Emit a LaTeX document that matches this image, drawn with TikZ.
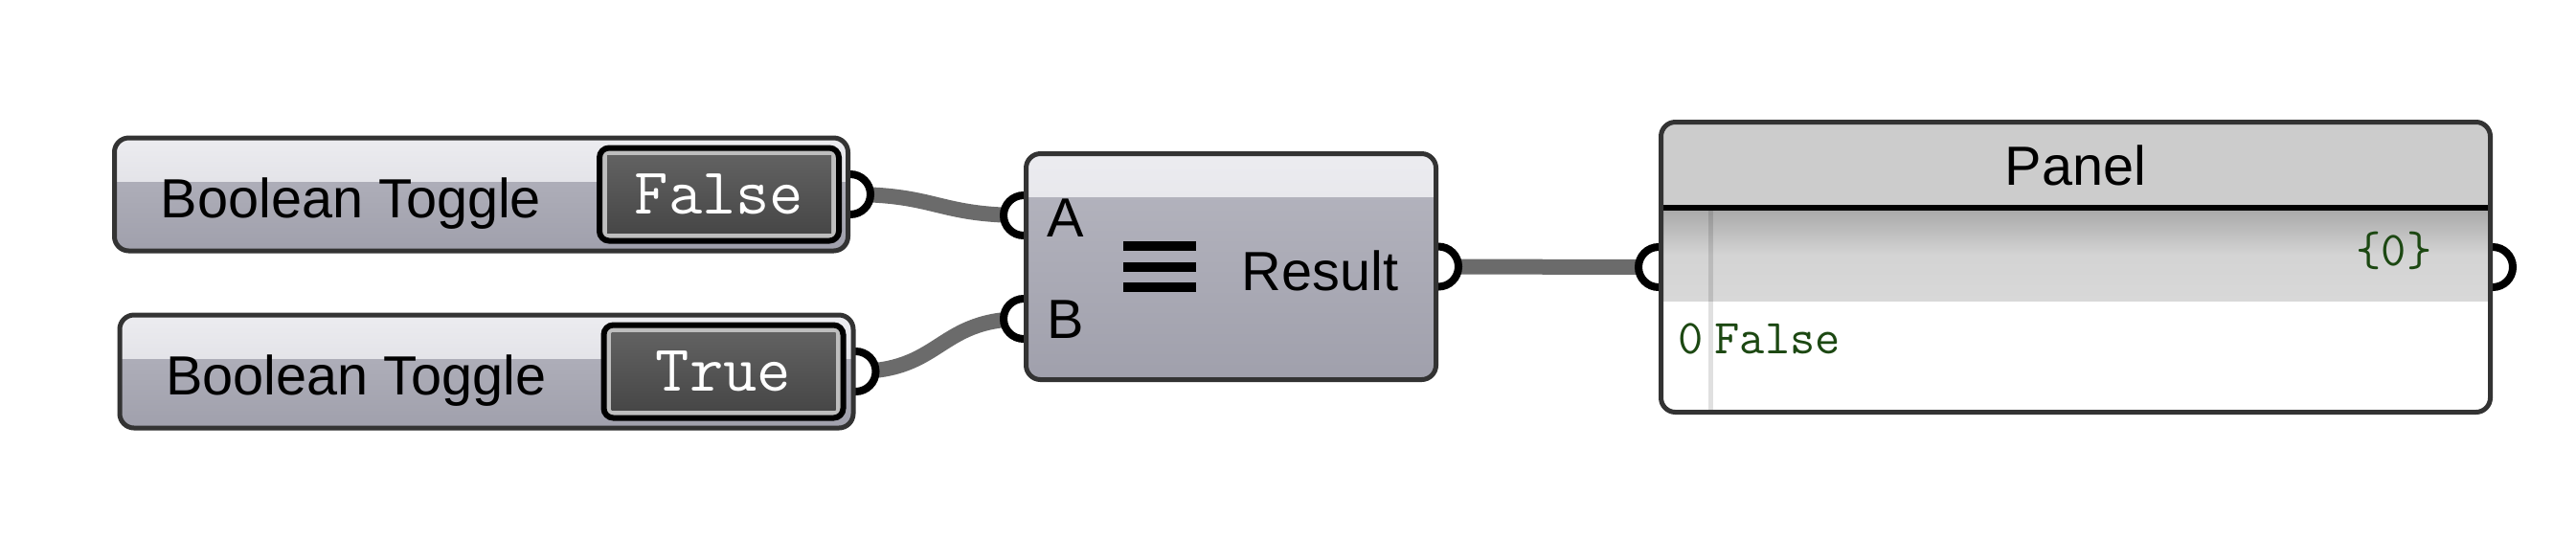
\documentclass[tikz,border=0pt]{standalone}
\usepackage{fontspec}
\newfontfamily\uifont{Liberation Sans}
\usepackage{tikz}
\usetikzlibrary{positioning,calc,backgrounds}
\usepackage{xcolor}
\definecolor{gedge}{RGB}{51,51,51}
\definecolor{hiA}{RGB}{236,236,240}
\definecolor{hiB}{RGB}{214,214,220}
\definecolor{bodyA}{RGB}{182,182,192}
\definecolor{bodyB}{RGB}{160,160,172}
\definecolor{valrim}{RGB}{190,190,190}
\definecolor{valA}{RGB}{100,100,100}
\definecolor{valB}{RGB}{68,68,68}
\definecolor{wirec}{RGB}{107,107,107}
\definecolor{pnlhead}{RGB}{204,204,204}
\definecolor{pnlbandA}{RGB}{168,168,168}
\definecolor{pnlbandB}{RGB}{216,216,216}
\definecolor{codegreen}{RGB}{28,72,18}
\tikzstyle{gbody} = [draw=gedge, line width=0.5mm, rounded corners=1.5mm, inner sep=0, top color=bodyA, bottom color=bodyB, path picture={\shade[sharp corners, top color=hiA, bottom color=hiB] (path picture bounding box.north west) rectangle ([yshift=-0.45cm]path picture bounding box.north east);}]
\tikzstyle{valuebox} = [draw=black, line width=0.6mm, fill=valrim, rounded corners=1mm, minimum width=2.5cm, minimum height=0.97cm, inner sep=0, text=white, font=\ttfamily\fontsize{19.5}{21}\selectfont, path picture={\shade[sharp corners, top color=valA, bottom color=valB] ([shift={(0.08,-0.08)}]path picture bounding box.north west) rectangle ([shift={(-0.08,0.08)}]path picture bounding box.south east);}]
\tikzstyle{uitext} = [inner sep=0, font=\uifont\fontsize{16.4}{19}\selectfont]
\tikzstyle{codetext} = [inner sep=0, text=codegreen, font=\ttfamily\fontsize{14.5}{16}\selectfont]
\tikzstyle{wire} = [line width=1.6mm, color=wirec]
\tikzstyle{port} = [draw=black, line width=0.8mm, fill=white]

\begin{document}
\begin{tikzpicture}
\useasboundingbox (0,0) rectangle (26.9,-5.62);
% Toggles
\node[gbody, minimum width=7.66cm, minimum height=1.18cm] (t1) at (5.025,-2.03) {};
\node[uitext, anchor=base west] at ($(t1.west)+(0.5,-0.24)$) {Boolean Toggle};
\node[valuebox, left=0.09cm of t1.east] (v1) {False};

\node[gbody, minimum width=7.66cm, minimum height=1.18cm] (t2) at (5.08,-3.88) {};
\node[uitext, anchor=base west] at ($(t2.west)+(0.5,-0.24)$) {Boolean Toggle};
\node[valuebox, left=0.1cm of t2.east] (v2) {True};

% Equality component
\node[gbody, minimum width=4.28cm, minimum height=2.36cm] (cmp) at (12.855,-2.785) {};
\coordinate (cmpA) at ($(cmp.west)+(0,0.535)$);
\coordinate (cmpB) at ($(cmp.west)+(0,-0.545)$);
\node[uitext, anchor=base west] at ($(cmp.north west)+(0.24,-0.89)$) {A};
\node[uitext, anchor=base west] at ($(cmp.north west)+(0.24,-1.95)$) {B};
\foreach \dy in {0.99,1.205,1.42}
  \draw[line width=1mm] ($(cmp.north west)+(1.04,-\dy)$) -- ++(0.76,0);
\node[uitext, anchor=base west] at ($(cmp.north west)+(2.27,-1.45)$) {Result};

% Panel
\node[draw=gedge, line width=0.5mm, rounded corners=1.5mm, fill=white, inner sep=0, minimum width=8.66cm, minimum height=3.03cm,
  path picture={
    \fill[sharp corners, pnlhead] (path picture bounding box.north west) rectangle ([yshift=-0.89cm]path picture bounding box.north east);
    \shade[sharp corners, top color=pnlbandA, bottom color=pnlbandB, middle color=pnlbandB!98!black] ([yshift=-0.9cm]path picture bounding box.north west) rectangle ([yshift=-1.87cm]path picture bounding box.north east);
    \fill[sharp corners, black, opacity=0.12] ([xshift=0.49cm,yshift=-0.9cm]path picture bounding box.north west) rectangle ([xshift=0.54cm]path picture bounding box.south west);
    \draw[black, line width=0.6mm] ([yshift=-0.89cm]path picture bounding box.north west) -- ([yshift=-0.89cm]path picture bounding box.north east);
  }] (pnl) at (21.675,-2.79) {};
\node[uitext, anchor=base] at ($(pnl.north)+(0,-0.68)$) {Panel};
\node[codetext, anchor=base east] at ($(pnl.north east)+(-0.63,-1.52)$) {\{0\}};
\node[codetext, anchor=base west] at ($(pnl.north west)+(0.2,-2.44)$) {0};
\node[codetext, anchor=base west] at ($(pnl.north west)+(0.58,-2.44)$) {False};

% Wires and ports
\begin{scope}[on background layer]
\draw[wire] (t1.east) .. controls +(0.9,0) and +(-0.9,0) .. (cmpA);
\draw[wire] (t2.east) .. controls +(0.9,0) and +(-0.9,0) .. (cmpB);
\draw[wire] (cmp.east) -- (pnl.west);
\foreach \p in {t1.east,t2.east,cmpA,cmpB,cmp.east,pnl.west,pnl.east}
  \draw[port] (\p) circle (0.21);
\end{scope}
\end{tikzpicture}
\end{document}
